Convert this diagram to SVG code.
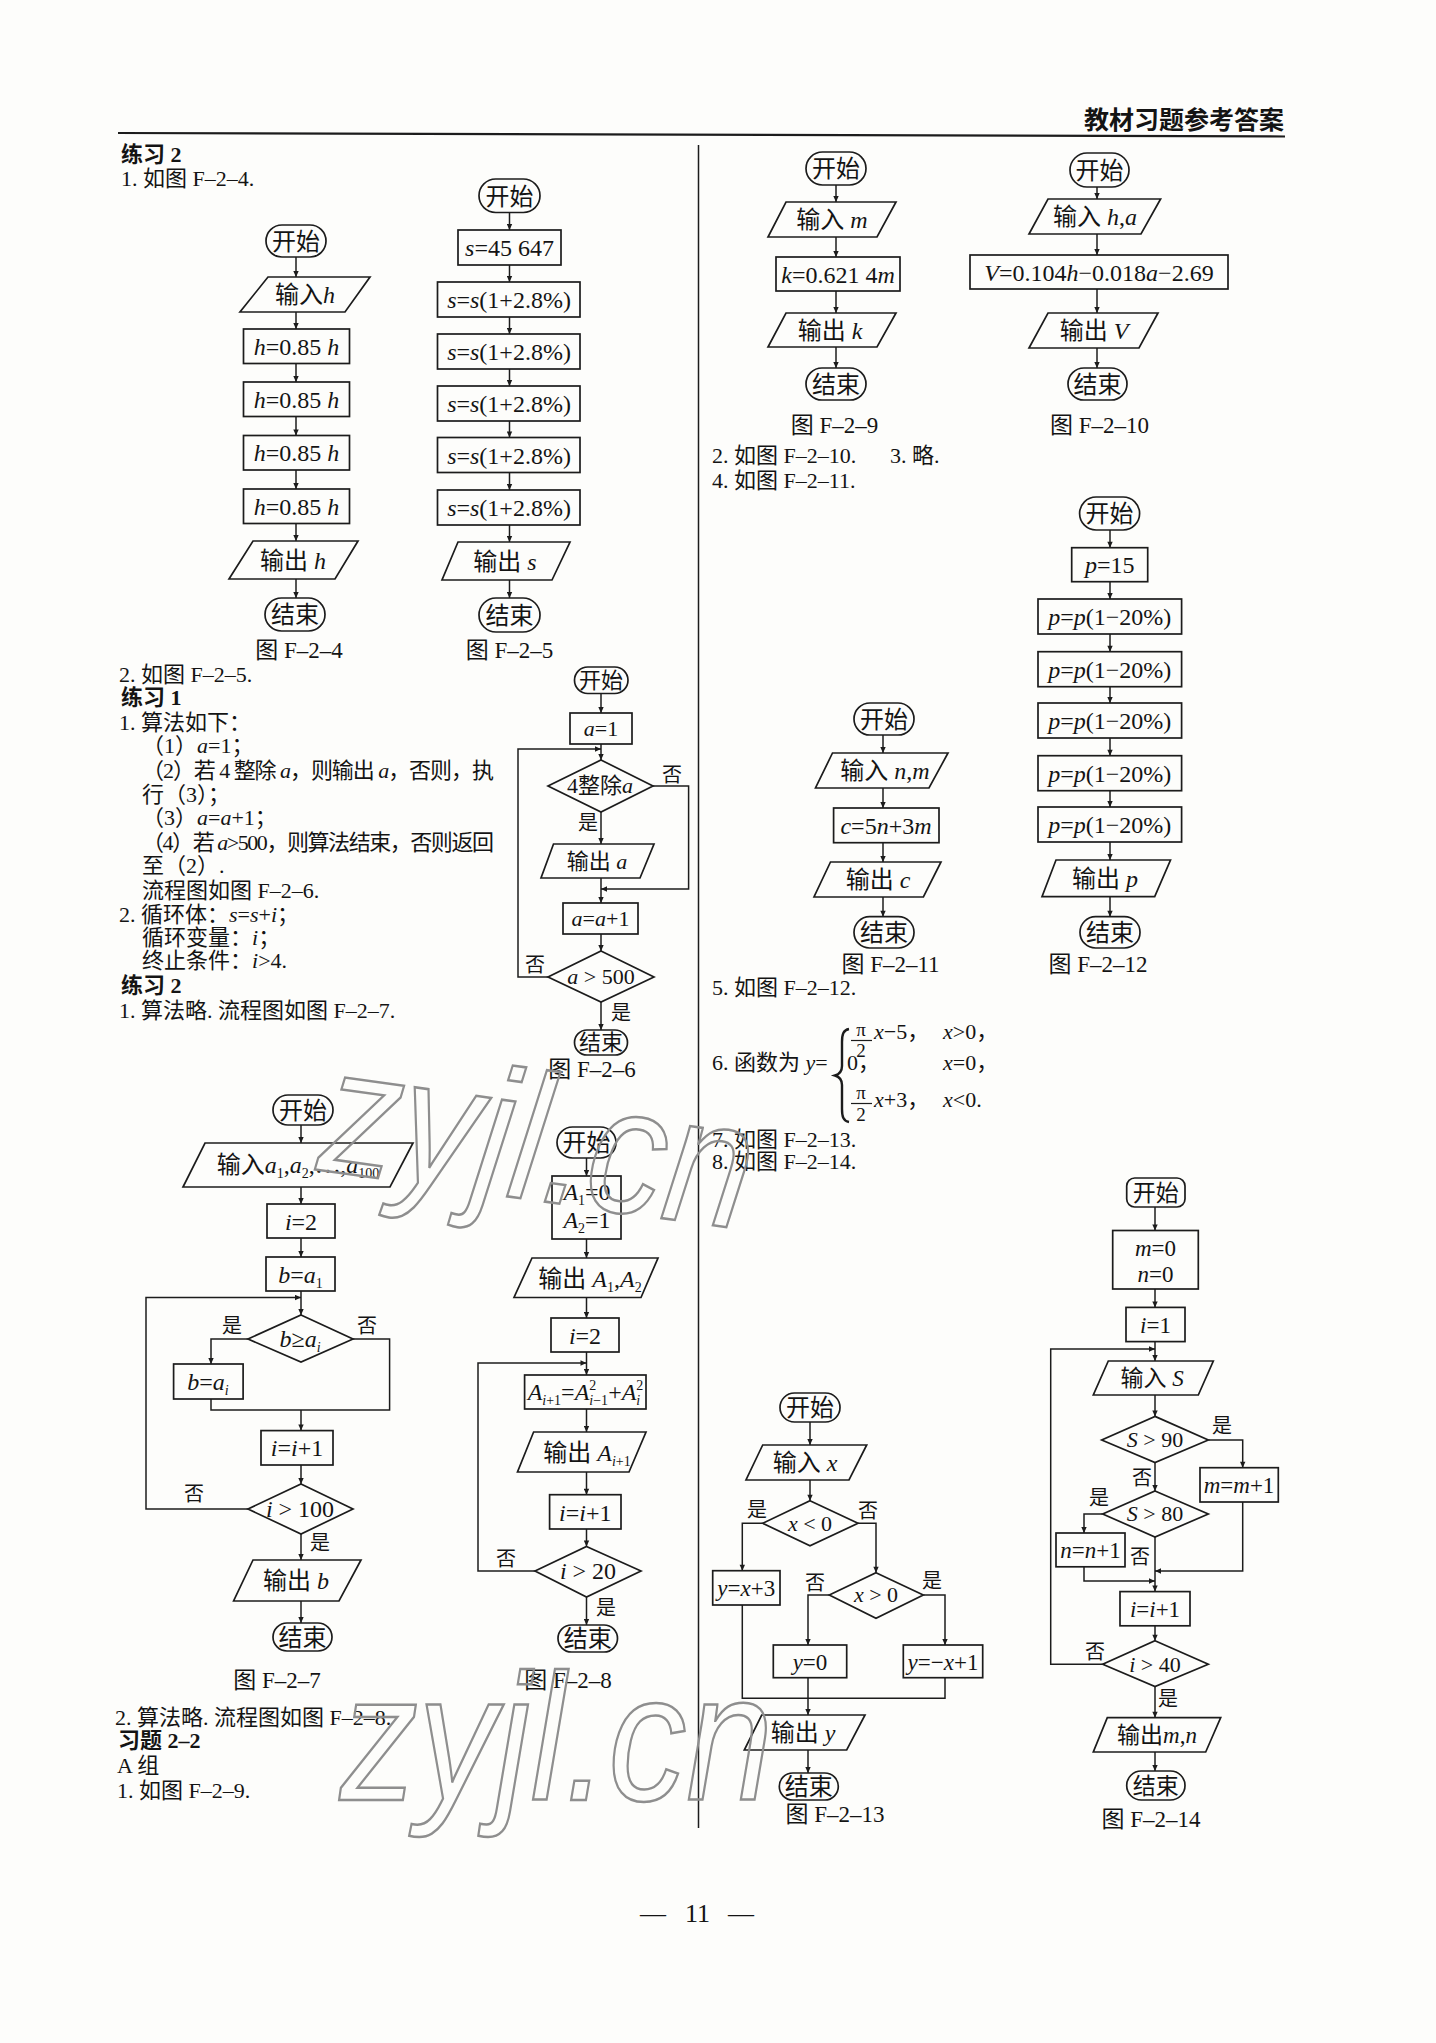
<svg xmlns="http://www.w3.org/2000/svg" width="1436" height="2043" viewBox="0 0 1436 2043">
<defs>
<marker id="ar" viewBox="0 0 10 10" refX="10" refY="5" markerWidth="7" markerHeight="6" markerUnits="userSpaceOnUse" orient="auto"><path d="M0,0.5 L10,5 L0,9.5 z" fill="#1c1c1c"/></marker>
<style>
.bg{fill:#fdfdfb}
.n{fill:none;stroke:#1c1c1c;stroke-width:1.7}
.c{fill:none;stroke:#1c1c1c;stroke-width:1.5}
.ln{stroke:#1c1c1c;fill:none}
text{font-family:"Liberation Serif","Noto Sans CJK SC",serif;fill:#141414}
.t{font-size:24px;text-anchor:middle}
.t2{font-size:22px;text-anchor:middle}
.t3{font-size:23px;text-anchor:middle}
.b{font-size:22px}
.h{font-size:22px;font-weight:bold}
.lb{font-size:20px}
.cap{font-size:23px;text-anchor:middle}
.fr{font-size:19px;text-anchor:middle}
.i{font-style:italic}
.sb{font-size:14px}
.hd{font-size:25px;font-weight:bold;text-anchor:end}
.ft{font-size:26px}
.wm{font-family:"Liberation Sans",sans-serif;font-style:italic;font-size:180px;fill:none;stroke:#8e8e8e;stroke-width:2.5}
</style>
</defs>
<rect class="bg" x="0" y="0" width="1436" height="2043"/>

<g id="page">
<line class="ln" x1="118" y1="133" x2="1285" y2="136.5" stroke-width="2.2"/>
<text class="hd" x="1284" y="129">教材习题参考答案</text>
<line class="ln" x1="698.5" y1="145" x2="698.5" y2="1828" stroke-width="1.5"/>
<text class="ft" y="1922"><tspan x="640">—</tspan><tspan x="685">11</tspan><tspan x="728">—</tspan></text>
</g>

<g id="text-left">
<text class="h" x="121" y="162">练习 2</text>
<text class="b" x="121" y="186">1. 如图 F–2–4.</text>
<text class="b" x="119" y="682">2. 如图 F–2–5.</text>
<text class="h" x="121" y="705">练习 1</text>
<text class="b" x="119" y="730">1. 算法如下：</text>
<text class="b" x="142" y="753">（1）<tspan class="i">a</tspan>=1；</text>
<text class="b" x="142" y="778" textLength="352" lengthAdjust="spacing">（2）若 4 整除 <tspan class="i">a</tspan>，则输出 <tspan class="i">a</tspan>，否则，执</text>
<text class="b" x="142" y="802">行（3）；</text>
<text class="b" x="142" y="825">（3）<tspan class="i">a</tspan>=<tspan class="i">a</tspan>+1；</text>
<text class="b" x="142" y="850" textLength="352" lengthAdjust="spacing">（4）若 <tspan class="i">a</tspan>&gt;500，则算法结束，否则返回</text>
<text class="b" x="142" y="873">至（2）.</text>
<text class="b" x="142" y="898">流程图如图 F–2–6.</text>
<text class="b" x="119" y="922">2. 循环体：<tspan class="i">s</tspan>=<tspan class="i">s</tspan>+<tspan class="i">i</tspan>；</text>
<text class="b" x="142" y="945">循环变量：<tspan class="i">i</tspan>；</text>
<text class="b" x="142" y="968">终止条件：<tspan class="i">i</tspan>&gt;4.</text>
<text class="h" x="121" y="993">练习 2</text>
<text class="b" x="119" y="1018">1. 算法略. 流程图如图 F–2–7.</text>
<text class="b" x="115" y="1725">2. 算法略. 流程图如图 F–2–8.</text>
<text class="h" x="118" y="1748">习题 2–2</text>
<text class="b" x="117" y="1773">A 组</text>
<text class="b" x="117" y="1798">1. 如图 F–2–9.</text>
</g>

<g id="text-right">
<text class="b" x="712" y="463">2. 如图 F–2–10.<tspan x="890">3. 略.</tspan></text>
<text class="b" x="712" y="488">4. 如图 F–2–11.</text>
<text class="b" x="712" y="995">5. 如图 F–2–12.</text>
<text class="b" x="712" y="1070">6. 函数为 <tspan class="i">y</tspan>=</text>
<path class="ln" stroke-width="2.4" d="M849 1029 C843 1030 842 1035 842 1042 V1066 C842 1071 840 1074 835 1075.5 C840 1077 842 1080 842 1085 V1109 C842 1116 843 1121 849 1122"/>
<text class="fr" x="861" y="1036">π</text>
<line class="ln" x1="851" y1="1040.5" x2="872" y2="1040.5" stroke-width="1.2"/>
<text class="fr" x="861" y="1057" font-size="20">2</text>
<text class="b" x="874" y="1039"><tspan class="i">x</tspan>−5，</text>
<text class="b" x="943" y="1039"><tspan class="i">x</tspan>&gt;0，</text>
<text class="b" x="847" y="1070">0，</text>
<text class="b" x="943" y="1070"><tspan class="i">x</tspan>=0，</text>
<text class="fr" x="861" y="1099">π</text>
<line class="ln" x1="851" y1="1103.5" x2="872" y2="1103.5" stroke-width="1.2"/>
<text class="fr" x="861" y="1121" font-size="20">2</text>
<text class="b" x="874" y="1107"><tspan class="i">x</tspan>+3，</text>
<text class="b" x="943" y="1107"><tspan class="i">x</tspan>&lt;0.</text>
<text class="b" x="712" y="1147">7. 如图 F–2–13.</text>
<text class="b" x="712" y="1169">8. 如图 F–2–14.</text>
</g>

<g id="captions">
<text class="cap" x="299" y="658">图 F–2–4</text>
<text class="cap" x="509.5" y="658">图 F–2–5</text>
<text class="cap" x="592" y="1077">图 F–2–6</text>
<text class="cap" x="277" y="1688">图 F–2–7</text>
<text class="cap" x="568" y="1688">图 F–2–8</text>
<text class="cap" x="834.5" y="433">图 F–2–9</text>
<text class="cap" x="1099.5" y="433">图 F–2–10</text>
<text class="cap" x="890.5" y="972">图 F–2–11</text>
<text class="cap" x="1098" y="972">图 F–2–12</text>
<text class="cap" x="835" y="1822">图 F–2–13</text>
<text class="cap" x="1151" y="1827">图 F–2–14</text>
</g>

<g id="connectors">
<path class="c" marker-end="url(#ar)" d="M296 257V277"/>
<path class="c" marker-end="url(#ar)" d="M296 312V329"/>
<path class="c" marker-end="url(#ar)" d="M296 363.5V382"/>
<path class="c" marker-end="url(#ar)" d="M296 416.5V435.5"/>
<path class="c" marker-end="url(#ar)" d="M296 470V489"/>
<path class="c" marker-end="url(#ar)" d="M296 523.5V541"/>
<path class="c" marker-end="url(#ar)" d="M296 579V598"/>

<path class="c" marker-end="url(#ar)" d="M509.5 212.5V230"/>
<path class="c" marker-end="url(#ar)" d="M509.5 265V282"/>
<path class="c" marker-end="url(#ar)" d="M509.5 317V334"/>
<path class="c" marker-end="url(#ar)" d="M509.5 369V386"/>
<path class="c" marker-end="url(#ar)" d="M509.5 421V437.5"/>
<path class="c" marker-end="url(#ar)" d="M509.5 472.5V490"/>
<path class="c" marker-end="url(#ar)" d="M509.5 525V542"/>
<path class="c" marker-end="url(#ar)" d="M509.5 580V598"/>

<path class="c" marker-end="url(#ar)" d="M601 693.5V713"/>
<path class="c" marker-end="url(#ar)" d="M601 744V760"/>
<path class="c" marker-end="url(#ar)" d="M548 977H518V749H601"/>
<path class="c" marker-end="url(#ar)" d="M653 786H688.6V889H601"/>
<path class="c" marker-end="url(#ar)" d="M601 812V844"/>
<path class="c" marker-end="url(#ar)" d="M601 878V903"/>
<path class="c" marker-end="url(#ar)" d="M601 934V951"/>
<path class="c" marker-end="url(#ar)" d="M601 1002V1030"/>

<path class="c" marker-end="url(#ar)" d="M301 1125V1143"/>
<path class="c" marker-end="url(#ar)" d="M301 1187V1204"/>
<path class="c" marker-end="url(#ar)" d="M301 1238V1257"/>
<path class="c" marker-end="url(#ar)" d="M301 1291V1315"/>
<path class="c" marker-end="url(#ar)" d="M248 1339H211V1364"/>
<path class="c" d="M353 1339H389.6V1410H211V1399"/>
<path class="c" marker-end="url(#ar)" d="M301 1410V1430.6"/>
<path class="c" marker-end="url(#ar)" d="M301 1465V1484"/>
<path class="c" marker-end="url(#ar)" d="M248 1509H146V1297.5H301"/>
<path class="c" marker-end="url(#ar)" d="M301 1534V1560"/>
<path class="c" marker-end="url(#ar)" d="M301 1601V1623"/>

<path class="c" marker-end="url(#ar)" d="M586.5 1158V1176"/>
<path class="c" marker-end="url(#ar)" d="M586.5 1239V1258"/>
<path class="c" marker-end="url(#ar)" d="M586.5 1297.5V1318"/>
<path class="c" marker-end="url(#ar)" d="M586.5 1352V1375"/>
<path class="c" marker-end="url(#ar)" d="M586.5 1409V1432"/>
<path class="c" marker-end="url(#ar)" d="M586.5 1472V1494.7"/>
<path class="c" marker-end="url(#ar)" d="M586.5 1529V1546.5"/>
<path class="c" marker-end="url(#ar)" d="M535 1571H478V1363H586.5"/>
<path class="c" marker-end="url(#ar)" d="M586.5 1597V1625"/>

<path class="c" marker-end="url(#ar)" d="M836 185V202"/>
<path class="c" marker-end="url(#ar)" d="M836 237V257"/>
<path class="c" marker-end="url(#ar)" d="M836 291V313"/>
<path class="c" marker-end="url(#ar)" d="M836 347V368"/>

<path class="c" marker-end="url(#ar)" d="M1097 187V199"/>
<path class="c" marker-end="url(#ar)" d="M1097 234V255"/>
<path class="c" marker-end="url(#ar)" d="M1097 289V313"/>
<path class="c" marker-end="url(#ar)" d="M1097 348V368"/>

<path class="c" marker-end="url(#ar)" d="M883 735V753"/>
<path class="c" marker-end="url(#ar)" d="M883 788V808"/>
<path class="c" marker-end="url(#ar)" d="M883 842.7V862"/>
<path class="c" marker-end="url(#ar)" d="M883 897V916.7"/>

<path class="c" marker-end="url(#ar)" d="M1110 530V547.7"/>
<path class="c" marker-end="url(#ar)" d="M1110 581.7V599"/>
<path class="c" marker-end="url(#ar)" d="M1110 634V651.7"/>
<path class="c" marker-end="url(#ar)" d="M1110 686.7V703"/>
<path class="c" marker-end="url(#ar)" d="M1110 738V755.7"/>
<path class="c" marker-end="url(#ar)" d="M1110 790.7V807"/>
<path class="c" marker-end="url(#ar)" d="M1110 842V860"/>
<path class="c" marker-end="url(#ar)" d="M1110 896.7V916.7"/>

<path class="c" marker-end="url(#ar)" d="M810 1422V1445"/>
<path class="c" marker-end="url(#ar)" d="M810 1480V1500.7"/>
<path class="c" marker-end="url(#ar)" d="M762.7 1523.3H742.3V1570.7"/>
<path class="c" marker-end="url(#ar)" d="M858 1523.3H876V1572.7"/>
<path class="c" marker-end="url(#ar)" d="M829.3 1595H808V1645"/>
<path class="c" marker-end="url(#ar)" d="M923.3 1595H945V1645"/>
<path class="c" d="M742.3 1605V1698.3H945V1677.7"/>
<path class="c" marker-end="url(#ar)" d="M808 1677.7V1715"/>
<path class="c" marker-end="url(#ar)" d="M808 1750V1773"/>

<path class="c" marker-end="url(#ar)" d="M1155 1207V1230.5"/>
<path class="c" marker-end="url(#ar)" d="M1155 1289V1307.4"/>
<path class="c" marker-end="url(#ar)" d="M1155 1341.6V1361"/>
<path class="c" marker-end="url(#ar)" d="M1155 1395V1416.4"/>
<path class="c" marker-end="url(#ar)" d="M1208.3 1440H1242.7V1467.7"/>
<path class="c" marker-end="url(#ar)" d="M1155 1462.6V1491"/>
<path class="c" marker-end="url(#ar)" d="M1102.7 1514H1084V1533"/>
<path class="c" marker-end="url(#ar)" d="M1155 1537V1591.6"/>
<path class="c" marker-end="url(#ar)" d="M1242.7 1502V1571H1155"/>
<path class="c" marker-end="url(#ar)" d="M1084 1566.8V1581H1155"/>
<path class="c" marker-end="url(#ar)" d="M1155 1625.8V1640.8"/>
<path class="c" marker-end="url(#ar)" d="M1102.7 1664.3H1050.7V1349H1155"/>
<path class="c" marker-end="url(#ar)" d="M1155 1686.5V1717.7"/>
<path class="c" marker-end="url(#ar)" d="M1155 1752V1771"/>
</g>

<g id="labels">
<text class="lb" x="662" y="782">否</text>
<text class="lb" x="578" y="830">是</text>
<text class="lb" x="525" y="972">否</text>
<text class="lb" x="611" y="1020">是</text>
<text class="lb" x="222" y="1333">是</text>
<text class="lb" x="357" y="1333">否</text>
<text class="lb" x="184" y="1501">否</text>
<text class="lb" x="310" y="1550">是</text>
<text class="lb" x="496" y="1566">否</text>
<text class="lb" x="596" y="1615">是</text>
<text class="lb" x="747" y="1517">是</text>
<text class="lb" x="858" y="1518">否</text>
<text class="lb" x="805" y="1590">否</text>
<text class="lb" x="922" y="1588">是</text>
<text class="lb" x="1212" y="1433">是</text>
<text class="lb" x="1132" y="1485">否</text>
<text class="lb" x="1089" y="1505">是</text>
<text class="lb" x="1130" y="1564">否</text>
<text class="lb" x="1085" y="1659">否</text>
<text class="lb" x="1158" y="1706">是</text>
</g>

<!-- F-2-4 -->
<g id="f24-start"><rect class="n" x="266" y="225" width="60" height="32" rx="16"/><text class="t" x="296" y="249.5">开始</text></g>
<g id="f24-input"><polygon class="n" points="268,277 370,277 345,312 240,312"/><text class="t" x="305" y="303">输入<tspan class="i">h</tspan></text></g>
<g id="f24-p1"><rect class="n" x="243.5" y="329" width="106" height="34.5"/><text class="t" x="296.5" y="354.5"><tspan class="i">h</tspan>=0.85 <tspan class="i">h</tspan></text></g>
<g id="f24-p2"><rect class="n" x="243.5" y="382" width="106" height="34.5"/><text class="t" x="296.5" y="407.5"><tspan class="i">h</tspan>=0.85 <tspan class="i">h</tspan></text></g>
<g id="f24-p3"><rect class="n" x="243.5" y="435.5" width="106" height="34.5"/><text class="t" x="296.5" y="461"><tspan class="i">h</tspan>=0.85 <tspan class="i">h</tspan></text></g>
<g id="f24-p4"><rect class="n" x="243.5" y="489" width="106" height="34.5"/><text class="t" x="296.5" y="514.5"><tspan class="i">h</tspan>=0.85 <tspan class="i">h</tspan></text></g>
<g id="f24-output"><polygon class="n" points="253,541 358,541 335,579 229,579"/><text class="t" x="293" y="568.5">输出 <tspan class="i">h</tspan></text></g>
<g id="f24-end"><rect class="n" x="265" y="598" width="60" height="33" rx="16.5"/><text class="t" x="295" y="623">结束</text></g>

<!-- F-2-5 -->
<g id="f25-start"><rect class="n" x="479" y="179" width="61" height="33.5" rx="16.7"/><text class="t" x="509.5" y="204.5">开始</text></g>
<g id="f25-init"><rect class="n" x="458" y="230" width="103" height="35"/><text class="t" x="509.5" y="256"><tspan class="i">s</tspan>=45 647</text></g>
<g id="f25-p1"><rect class="n" x="437.5" y="282" width="142.5" height="35"/><text class="t" x="509" y="308"><tspan class="i">s</tspan>=<tspan class="i">s</tspan>(1+2.8%)</text></g>
<g id="f25-p2"><rect class="n" x="437.5" y="334" width="142.5" height="35"/><text class="t" x="509" y="360"><tspan class="i">s</tspan>=<tspan class="i">s</tspan>(1+2.8%)</text></g>
<g id="f25-p3"><rect class="n" x="437.5" y="386" width="142.5" height="35"/><text class="t" x="509" y="412"><tspan class="i">s</tspan>=<tspan class="i">s</tspan>(1+2.8%)</text></g>
<g id="f25-p4"><rect class="n" x="437.5" y="437.5" width="142.5" height="35"/><text class="t" x="509" y="463.5"><tspan class="i">s</tspan>=<tspan class="i">s</tspan>(1+2.8%)</text></g>
<g id="f25-p5"><rect class="n" x="437.5" y="490" width="142.5" height="35"/><text class="t" x="509" y="516"><tspan class="i">s</tspan>=<tspan class="i">s</tspan>(1+2.8%)</text></g>
<g id="f25-output"><polygon class="n" points="458,542 570,542 552,580 442,580"/><text class="t" x="505" y="569.5">输出 <tspan class="i">s</tspan></text></g>
<g id="f25-end"><rect class="n" x="479" y="598" width="61" height="34" rx="17"/><text class="t" x="509.5" y="623.5">结束</text></g>

<!-- F-2-6 -->
<g id="f26-start"><rect class="n" x="574.5" y="667" width="53.5" height="26.5" rx="13.2"/><text class="t2" x="601" y="688">开始</text></g>
<g id="f26-init"><rect class="n" x="570" y="713" width="62" height="31"/><text class="t2" x="601" y="736"><tspan class="i">a</tspan>=1</text></g>
<g id="f26-cond1"><polygon class="n" points="601,760 653,786 601,812 548,786"/><text class="t2" x="600" y="793">4整除<tspan class="i">a</tspan></text></g>
<g id="f26-output"><polygon class="n" points="553.5,844 654,844 640,878 541,878"/><text class="t2" x="597" y="869">输出 <tspan class="i">a</tspan></text></g>
<g id="f26-inc"><rect class="n" x="563" y="903" width="75" height="31"/><text class="t2" x="600.5" y="926"><tspan class="i">a</tspan>=<tspan class="i">a</tspan>+1</text></g>
<g id="f26-cond2"><polygon class="n" points="601,951 654,977 601,1002 548,977"/><text class="t2" x="601" y="984"><tspan class="i">a</tspan> &gt; 500</text></g>
<g id="f26-end"><rect class="n" x="574.5" y="1030" width="53" height="25" rx="12.5"/><text class="t2" x="601" y="1050">结束</text></g>

<!-- F-2-7 -->
<g id="f27-start"><rect class="n" x="273" y="1095" width="60" height="30" rx="15"/><text class="t" x="303" y="1118.5">开始</text></g>
<g id="f27-input"><polygon class="n" points="205,1143 413,1143 390,1187 183,1187"/><text class="t" x="298" y="1173">输入<tspan class="i">a</tspan><tspan class="sb" dy="5">1</tspan><tspan dy="-5">,</tspan><tspan class="i">a</tspan><tspan class="sb" dy="5">2</tspan><tspan dy="-5">,⋯,</tspan><tspan class="i">a</tspan><tspan class="sb" dy="5">100</tspan></text></g>
<g id="f27-i2"><rect class="n" x="267" y="1204" width="68" height="34"/><text class="t" x="301" y="1229.5"><tspan class="i">i</tspan>=2</text></g>
<g id="f27-b"><rect class="n" x="266" y="1257" width="69" height="34"/><text class="t" x="300.5" y="1282.5"><tspan class="i">b</tspan>=<tspan class="i">a</tspan><tspan class="sb" dy="5">1</tspan></text></g>
<g id="f27-cond1"><polygon class="n" points="301,1315 353,1339 301,1362 248,1339"/><text class="t" x="300" y="1346.5"><tspan class="i">b</tspan>≥<tspan class="i">a</tspan><tspan class="sb i" dy="5">i</tspan></text></g>
<g id="f27-assign"><rect class="n" x="173.6" y="1364" width="69.5" height="35"/><text class="t" x="208" y="1389.5"><tspan class="i">b</tspan>=<tspan class="i">a</tspan><tspan class="sb i" dy="5">i</tspan></text></g>
<g id="f27-inc"><rect class="n" x="261" y="1430.6" width="72" height="34.4"/><text class="t" x="297" y="1456"><tspan class="i">i</tspan>=<tspan class="i">i</tspan>+1</text></g>
<g id="f27-cond2"><polygon class="n" points="301,1484 353,1509 301,1534 248,1509"/><text class="t" x="300" y="1517"><tspan class="i">i</tspan> &gt; 100</text></g>
<g id="f27-output"><polygon class="n" points="253,1560 361,1560 339,1601 233.6,1601"/><text class="t" x="296" y="1589">输出 <tspan class="i">b</tspan></text></g>
<g id="f27-end"><rect class="n" x="273" y="1623" width="59" height="28" rx="14"/><text class="t" x="302.5" y="1645.5">结束</text></g>

<!-- F-2-8 -->
<g id="f28-start"><rect class="n" x="557" y="1127" width="59" height="31" rx="15.5"/><text class="t" x="586.5" y="1151">开始</text></g>
<g id="f28-init"><rect class="n" x="552" y="1176" width="69" height="63"/><text class="t" x="587" y="1200"><tspan class="i">A</tspan><tspan class="sb" dy="5">1</tspan><tspan dy="-5">=0</tspan></text><text class="t" x="587" y="1228"><tspan class="i">A</tspan><tspan class="sb" dy="5">2</tspan><tspan dy="-5">=1</tspan></text></g>
<g id="f28-out1"><polygon class="n" points="532,1258 658,1258 641,1297.5 514,1297.5"/><text class="t" x="590" y="1286.5">输出 <tspan class="i">A</tspan><tspan class="sb" dy="5">1</tspan><tspan dy="-5">,</tspan><tspan class="i">A</tspan><tspan class="sb" dy="5">2</tspan></text></g>
<g id="f28-i2"><rect class="n" x="551" y="1318" width="68" height="34"/><text class="t" x="585" y="1343.5"><tspan class="i">i</tspan>=2</text></g>
<g id="f28-calc"><rect class="n" x="524.6" y="1375" width="121.4" height="34"/><text class="t" x="585.5" y="1400"><tspan class="i">A</tspan><tspan class="sb" dy="5"><tspan class="i">i</tspan>+1</tspan><tspan dy="-5">=</tspan><tspan class="i">A</tspan><tspan class="sb" dy="-10">2</tspan><tspan class="sb" dx="-7" dy="15"><tspan class="i">i</tspan>−1</tspan><tspan dy="-5">+</tspan><tspan class="i">A</tspan><tspan class="sb" dy="-10">2</tspan><tspan class="sb i" dx="-7" dy="15">i</tspan></text></g>
<g id="f28-out2"><polygon class="n" points="533.6,1432 646,1432 629,1472 517.5,1472"/><text class="t" x="587" y="1460.5">输出 <tspan class="i">A</tspan><tspan class="sb" dy="5"><tspan class="i">i</tspan>+1</tspan></text></g>
<g id="f28-inc"><rect class="n" x="549.6" y="1494.7" width="71.4" height="34.3"/><text class="t" x="585.3" y="1520.5"><tspan class="i">i</tspan>=<tspan class="i">i</tspan>+1</text></g>
<g id="f28-cond"><polygon class="n" points="586.5,1546.5 641,1571 586.5,1597 535,1571"/><text class="t" x="588" y="1579"><tspan class="i">i</tspan> &gt; 20</text></g>
<g id="f28-end"><rect class="n" x="558" y="1625" width="59.5" height="27" rx="13.5"/><text class="t" x="587.7" y="1646.5">结束</text></g>

<!-- F-2-9 -->
<g id="f29-start"><rect class="n" x="806" y="152" width="60" height="33" rx="16.5"/><text class="t" x="836" y="176.5">开始</text></g>
<g id="f29-input"><polygon class="n" points="786,202 896,202 877,237 768,237"/><text class="t" x="832" y="227.5">输入 <tspan class="i">m</tspan></text></g>
<g id="f29-calc"><rect class="n" x="776" y="257" width="124" height="34"/><text class="t" x="838" y="282.5"><tspan class="i">k</tspan>=0.621 4<tspan class="i">m</tspan></text></g>
<g id="f29-output"><polygon class="n" points="786,313 896,313 877,347 768,347"/><text class="t" x="830" y="338.5">输出 <tspan class="i">k</tspan></text></g>
<g id="f29-end"><rect class="n" x="806" y="368" width="60" height="32" rx="16"/><text class="t" x="836" y="392.5">结束</text></g>

<!-- F-2-10 -->
<g id="f210-start"><rect class="n" x="1070" y="153" width="59" height="34" rx="17"/><text class="t" x="1099.5" y="178.5">开始</text></g>
<g id="f210-input"><polygon class="n" points="1048,199 1160.6,199 1141,234 1029,234"/><text class="t" x="1095" y="224.5">输入 <tspan class="i">h</tspan>,<tspan class="i">a</tspan></text></g>
<g id="f210-calc"><rect class="n" x="970" y="255" width="258" height="34"/><text class="t" x="1099" y="280.5"><tspan class="i">V</tspan>=0.104<tspan class="i">h</tspan>−0.018<tspan class="i">a</tspan>−2.69</text></g>
<g id="f210-output"><polygon class="n" points="1048,313 1158,313 1139,348 1029,348"/><text class="t" x="1094" y="339">输出 <tspan class="i">V</tspan></text></g>
<g id="f210-end"><rect class="n" x="1068" y="368" width="59" height="32" rx="16"/><text class="t" x="1097.5" y="392.5">结束</text></g>

<!-- F-2-11 -->
<g id="f211-start"><rect class="n" x="854" y="703" width="60" height="32" rx="16"/><text class="t" x="884" y="727.5">开始</text></g>
<g id="f211-input"><polygon class="n" points="832.5,753 948,753 929,788 815.5,788"/><text class="t" x="885" y="778.5">输入 <tspan class="i">n</tspan>,<tspan class="i">m</tspan></text></g>
<g id="f211-calc"><rect class="n" x="833.6" y="808" width="105.4" height="34.7"/><text class="t" x="886" y="833.5"><tspan class="i">c</tspan>=5<tspan class="i">n</tspan>+3<tspan class="i">m</tspan></text></g>
<g id="f211-output"><polygon class="n" points="830.5,862 941,862 923.4,897 814,897"/><text class="t" x="878" y="887.5">输出 <tspan class="i">c</tspan></text></g>
<g id="f211-end"><rect class="n" x="854" y="916.7" width="60" height="31.3" rx="15.6"/><text class="t" x="884" y="940.5">结束</text></g>

<!-- F-2-12 -->
<g id="f212-start"><rect class="n" x="1079.6" y="497" width="60" height="33" rx="16.5"/><text class="t" x="1109.6" y="521.5">开始</text></g>
<g id="f212-init"><rect class="n" x="1071.7" y="547.7" width="76" height="34"/><text class="t" x="1109.7" y="573"><tspan class="i">p</tspan>=15</text></g>
<g id="f212-p1"><rect class="n" x="1038" y="599" width="143.6" height="35"/><text class="t" x="1109.8" y="625"><tspan class="i">p</tspan>=<tspan class="i">p</tspan>(1−20%)</text></g>
<g id="f212-p2"><rect class="n" x="1038" y="651.7" width="143.6" height="35"/><text class="t" x="1109.8" y="677.5"><tspan class="i">p</tspan>=<tspan class="i">p</tspan>(1−20%)</text></g>
<g id="f212-p3"><rect class="n" x="1038" y="703" width="143.6" height="35"/><text class="t" x="1109.8" y="729"><tspan class="i">p</tspan>=<tspan class="i">p</tspan>(1−20%)</text></g>
<g id="f212-p4"><rect class="n" x="1038" y="755.7" width="143.6" height="35"/><text class="t" x="1109.8" y="781.5"><tspan class="i">p</tspan>=<tspan class="i">p</tspan>(1−20%)</text></g>
<g id="f212-p5"><rect class="n" x="1038" y="807" width="143.6" height="35"/><text class="t" x="1109.8" y="833"><tspan class="i">p</tspan>=<tspan class="i">p</tspan>(1−20%)</text></g>
<g id="f212-output"><polygon class="n" points="1056,860 1170.5,860 1154.7,896.7 1042,896.7"/><text class="t" x="1105" y="886.5">输出 <tspan class="i">p</tspan></text></g>
<g id="f212-end"><rect class="n" x="1080" y="916.7" width="60" height="31.3" rx="15.6"/><text class="t" x="1110" y="940.5">结束</text></g>

<!-- F-2-13 -->
<g id="f213-start"><rect class="n" x="780" y="1393" width="60" height="29" rx="14.5"/><text class="t" x="810" y="1416">开始</text></g>
<g id="f213-input"><polygon class="n" points="762.7,1445 866.7,1445 849,1480 746,1480"/><text class="t" x="805" y="1470.5">输入 <tspan class="i">x</tspan></text></g>
<g id="f213-cond1"><polygon class="n" points="810,1500.7 858,1523.3 810,1545.7 762.7,1523.3"/><text class="t2" x="810" y="1530.5"><tspan class="i">x</tspan> &lt; 0</text></g>
<g id="f213-neg"><rect class="n" x="712.7" y="1570.7" width="67.3" height="34.3"/><text class="t3" x="746.3" y="1595.5"><tspan class="i">y</tspan>=<tspan class="i">x</tspan>+3</text></g>
<g id="f213-cond2"><polygon class="n" points="876,1572.7 923.3,1595 876,1618.3 829.3,1595"/><text class="t2" x="876" y="1602"><tspan class="i">x</tspan> &gt; 0</text></g>
<g id="f213-zero"><rect class="n" x="773.3" y="1645" width="73.4" height="32.7"/><text class="t3" x="810" y="1669.5"><tspan class="i">y</tspan>=0</text></g>
<g id="f213-pos"><rect class="n" x="903.3" y="1645" width="79.4" height="32.7"/><text class="t3" x="943" y="1669.5"><tspan class="i">y</tspan>=−<tspan class="i">x</tspan>+1</text></g>
<g id="f213-output"><polygon class="n" points="761.7,1715 865,1715 846.7,1750 744.3,1750"/><text class="t" x="803" y="1740.5">输出 <tspan class="i">y</tspan></text></g>
<g id="f213-end"><rect class="n" x="779.3" y="1773" width="59" height="27" rx="13.5"/><text class="t" x="808.8" y="1794.5">结束</text></g>

<!-- F-2-14 -->
<g id="f214-start"><rect class="n" x="1126.7" y="1178" width="58.3" height="29" rx="8"/><text class="t3" x="1155.8" y="1200.5">开始</text></g>
<g id="f214-init"><rect class="n" x="1112.7" y="1230.5" width="85.6" height="58.5"/><text class="t3" x="1155.5" y="1256"><tspan class="i">m</tspan>=0</text><text class="t3" x="1155.5" y="1282"><tspan class="i">n</tspan>=0</text></g>
<g id="f214-i1"><rect class="n" x="1126" y="1307.4" width="59" height="34.2"/><text class="t3" x="1155.5" y="1332.5"><tspan class="i">i</tspan>=1</text></g>
<g id="f214-input"><polygon class="n" points="1108.3,1361 1213.3,1361 1198.3,1395 1093.3,1395"/><text class="t3" x="1152" y="1386">输入 <tspan class="i">S</tspan></text></g>
<g id="f214-cond90"><polygon class="n" points="1155,1416.4 1208.3,1440 1155,1462.6 1101.7,1440"/><text class="t2" x="1155" y="1447"><tspan class="i">S</tspan> &gt; 90</text></g>
<g id="f214-m"><rect class="n" x="1200" y="1467.7" width="78.3" height="34.3"/><text class="t3" x="1239" y="1492.5"><tspan class="i">m</tspan>=<tspan class="i">m</tspan>+1</text></g>
<g id="f214-cond80"><polygon class="n" points="1155,1491 1208.3,1514 1155,1537 1102.7,1514"/><text class="t2" x="1155" y="1521"><tspan class="i">S</tspan> &gt; 80</text></g>
<g id="f214-n"><rect class="n" x="1056" y="1533" width="69" height="33.8"/><text class="t3" x="1090.5" y="1558"><tspan class="i">n</tspan>=<tspan class="i">n</tspan>+1</text></g>
<g id="f214-inc"><rect class="n" x="1120" y="1591.6" width="70" height="34.2"/><text class="t3" x="1155" y="1616.5"><tspan class="i">i</tspan>=<tspan class="i">i</tspan>+1</text></g>
<g id="f214-cond40"><polygon class="n" points="1155,1640.8 1208.3,1664.3 1155,1686.5 1102.7,1664.3"/><text class="t2" x="1155" y="1671.5"><tspan class="i">i</tspan> &gt; 40</text></g>
<g id="f214-output"><polygon class="n" points="1107.3,1717.7 1220.7,1717.7 1205.7,1752 1093.3,1752"/><text class="t3" x="1157" y="1742.5">输出<tspan class="i">m</tspan>,<tspan class="i">n</tspan></text></g>
<g id="f214-end"><rect class="n" x="1126.7" y="1771" width="58.3" height="29" rx="14.5"/><text class="t3" x="1155.8" y="1793.5">结束</text></g>

<g id="watermark">
<text class="wm" x="340" y="1800" textLength="433" lengthAdjust="spacingAndGlyphs">zyjl.cn</text>
<text class="wm" x="320" y="1200" textLength="433" lengthAdjust="spacingAndGlyphs" transform="rotate(8 536 1155)">zyjl.cn</text>
</g>
</svg>
